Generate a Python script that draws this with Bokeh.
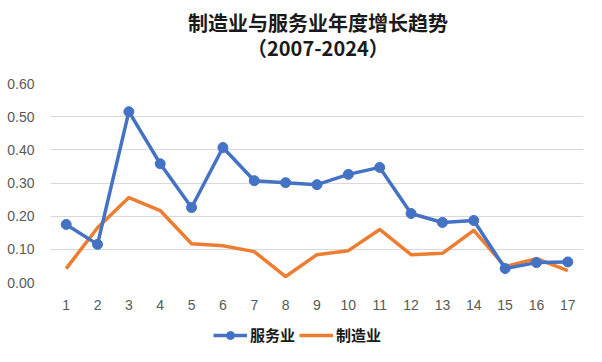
from bokeh.plotting import figure
from bokeh.layouts import column
from bokeh.models import Range1d, FixedTicker, Label, Legend, LegendItem, PrintfTickFormatter
from bokeh.embed import file_html
from bokeh.resources import INLINE

periods = list(range(1, 18))
services = [0.175, 0.115, 0.515, 0.358, 0.226, 0.407, 0.307, 0.301, 0.295, 0.326,
            0.347, 0.208, 0.181, 0.187, 0.042, 0.060, 0.062]
manufacturing = [0.042, 0.165, 0.256, 0.217, 0.117, 0.111, 0.093, 0.018, 0.084, 0.096,
                 0.160, 0.084, 0.088, 0.157, 0.048, 0.072, 0.036]
y_ticks = [0.0, 0.1, 0.2, 0.3, 0.4, 0.5, 0.6]
title_main = "制造业与服务业年度增长趋势"
title_sub = "（2007-2024）"
series_names = ["服务业", "制造业"]

FONT = "Noto Sans CJK SC"
TICK_FONT = "Liberation Sans"
BLUE = "#4472C4"
ORANGE = "#ED7D31"
W = 600


def strip(height, xr, yr):
    f = figure(width=W, height=height, output_backend="svg", toolbar_location=None,
               x_range=xr, y_range=yr, x_axis_location=None, y_axis_location=None,
               min_border_left=0, min_border_right=0, min_border_top=0, min_border_bottom=0)
    f.grid.visible = False
    f.outline_line_color = None
    f.border_fill_color = "white"
    f.background_fill_color = "white"
    return f


# title strip (pixel-sized ranges)
TH = 73
pt = strip(TH, Range1d(0, W), Range1d(0, TH))
for txt, yy in ((title_main, TH - 22), (title_sub, TH - 47)):
    pt.add_layout(Label(x=301, y=yy, text=txt, text_align="center", text_baseline="middle",
                        text_font=FONT, text_font_size="20px", text_font_style="bold",
                        text_color="#1a1a1a"))

# main chart
p = figure(frame_width=533, frame_height=199, output_backend="svg", toolbar_location=None,
           x_range=Range1d(0.5, 17.5), y_range=Range1d(0, 0.6),
           min_border_left=50, min_border_right=17, min_border_top=10, min_border_bottom=30)
p.title = None
p.outline_line_color = None
p.background_fill_color = "white"
p.border_fill_color = "white"

p.xaxis.ticker = FixedTicker(ticks=periods)
p.yaxis.ticker = FixedTicker(ticks=y_ticks)
p.yaxis.formatter = PrintfTickFormatter(format="%.2f")
for ax in (p.xaxis[0], p.yaxis[0]):
    ax.axis_line_color = None
    ax.major_tick_line_color = None
    ax.minor_tick_line_color = None
    ax.major_label_text_font = TICK_FONT
    ax.major_label_text_font_size = "14px"
    ax.major_label_text_color = "#595959"
p.yaxis.major_label_standoff = 10
p.xaxis.major_label_standoff = 11
p.xgrid.grid_line_color = None
p.ygrid.ticker = FixedTicker(ticks=y_ticks)
p.ygrid.grid_line_color = "#D9D9D9"
p.ygrid.grid_line_width = 1

p.line(periods, manufacturing, line_color=ORANGE, line_width=3.5, line_join="round")
p.line(periods, services, line_color=BLUE, line_width=3.5, line_join="round")
p.scatter(periods, services, size=10, fill_color=BLUE, line_color=BLUE)

# legend strip below the chart (its renderers hold the same data, out of view)
pl = strip(48, Range1d(-2, -1), Range1d(0, 1))
l_s = pl.line(periods, services, line_color=BLUE, line_width=3.5)
l_sc = pl.scatter(periods, services, size=10, fill_color=BLUE, line_color=BLUE)
l_m = pl.line(periods, manufacturing, line_color=ORANGE, line_width=3.5)

legend = Legend(items=[LegendItem(label=series_names[0], renderers=[l_s, l_sc]),
                       LegendItem(label=series_names[1], renderers=[l_m])],
                orientation="horizontal", location=(163, 15),
                label_text_font=FONT, label_text_font_size="15px",
                label_text_font_style="bold", label_text_color="#1a1a1a",
                glyph_width=34, glyph_height=20, label_standoff=3, spacing=4,
                border_line_color=None, background_fill_alpha=0,
                padding=0, margin=0)
pl.add_layout(legend, "center")

layout = column(pt, p, pl, spacing=0)
open("out.html", "w").write(file_html(layout, INLINE))
